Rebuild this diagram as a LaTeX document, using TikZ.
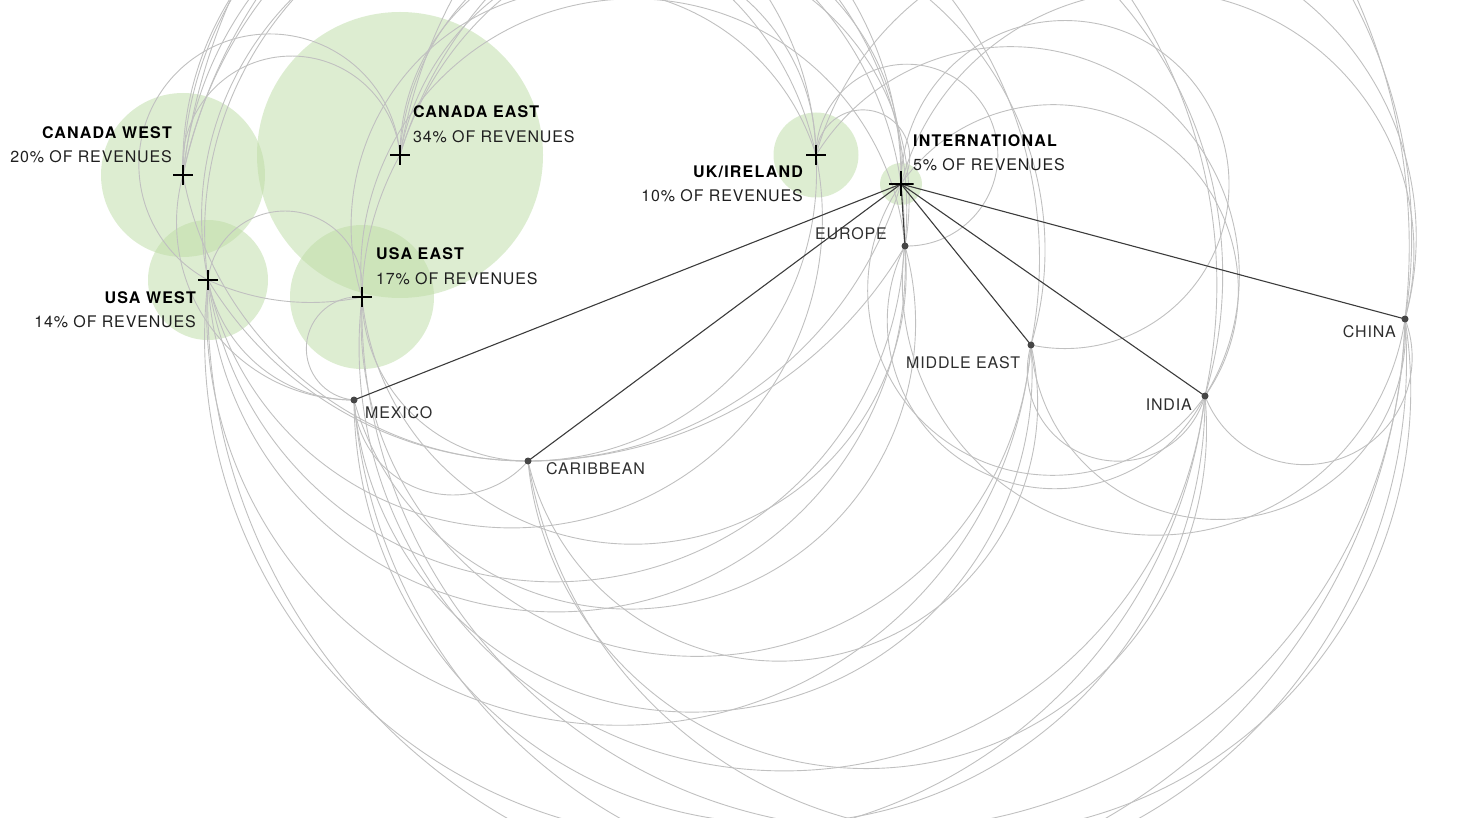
\documentclass[tikz,border=0pt]{standalone}
\usepackage{fontspec}
\setmainfont{TeX Gyre Heros}[LetterSpace=5.3, BoldFeatures={LetterSpace=7.5}]
\usetikzlibrary{calc}

\definecolor{ringgray}{HTML}{C0C0C0}
\definecolor{leafgreen}{HTML}{BCDBA4}
\definecolor{inkgray}{HTML}{3C3C3C}
\definecolor{dotgray}{HTML}{464646}
\definecolor{labelgray}{HTML}{2E2E2E}

\newcommand\labelsize{\fontsize{16}{19}\selectfont}

\tikzset{
  ring/.style={draw=ringgray, line width=0.9pt},
  bubble/.style={fill=leafgreen, fill opacity=0.5},
  hub/.style={minimum size=#1, inner sep=0pt,
    path picture={\draw[line width=1.2pt]
      (path picture bounding box.north) -- (path picture bounding box.south)
      (path picture bounding box.west) -- (path picture bounding box.east);}},
  hub/.default=20pt,
  spot/.style={circle, fill=dotgray, minimum size=7pt, inner sep=0pt},
  spoke/.style={draw=inkgray, line width=1.1pt},
  title/.style={font=\labelsize\bfseries, text=black, inner sep=0pt},
  share/.style={font=\labelsize, text=black!88, inner sep=0pt},
  place/.style={font=\labelsize, text=labelgray, inner sep=0pt},
}

% arc from #1 to #2, clockwise (over the top); #3 moves the centre off the chord
\newcommand\ringover[3]{%
  \draw[ring] let \p1=(#1), \p2=(#2), \p3=($(#1)!.5!(#2)!#3!-90:(#2)$),
    \n1={atan2(\y1-\y3,\x1-\x3)}, \n2={atan2(\y2-\y3,\x2-\x3)},
    \n3={veclen(\x1-\x3,\y1-\y3)}, \n4={\n2-\n1-360*(\n2>\n1)}
  in (\p1) arc[start angle=\n1, delta angle=\n4, radius={\n3*1pt}];}
% arc from #1 to #2, counterclockwise (under the bottom)
\newcommand\ringunder[3]{%
  \draw[ring] let \p1=(#1), \p2=(#2), \p3=($(#1)!.5!(#2)!#3!90:(#2)$),
    \n1={atan2(\y1-\y3,\x1-\x3)}, \n2={atan2(\y2-\y3,\x2-\x3)},
    \n3={veclen(\x1-\x3,\y1-\y3)}, \n4={\n2-\n1+360*(\n2<\n1)}
  in (\p1) arc[start angle=\n1, delta angle=\n4, radius={\n3*1pt}];}

\begin{document}
\begin{tikzpicture}[x=1pt, y=-1pt]
  \useasboundingbox (0,0) rectangle (1461,818);
  % home regions
  \coordinate (cw)  at (183,175);
  \coordinate (ce)  at (400,155);
  \coordinate (usw) at (208,280);
  \coordinate (use) at (362,297);
  \coordinate (uk)  at (816,155);
  \coordinate (int) at (901,184);
  % markets
  \coordinate (eur) at (905,246);
  \coordinate (me)  at (1031,345);
  \coordinate (ind) at (1205,396);
  \coordinate (chn) at (1405,319);
  \coordinate (mex) at (354,400);
  \coordinate (car) at (528,461);

  % revenue bubbles
  \fill[bubble] (cw) circle (82pt);
  \fill[bubble] (ce) circle (143pt);
  \fill[bubble] (usw) circle (60pt);
  \fill[bubble] (use) circle (72pt);
  \fill[bubble] (uk) circle (42.5pt);
  \fill[bubble] (int) circle (21pt);

  \begin{scope}
    \clip (0,0) rectangle (1461,818);
    \foreach \a/\b/\h in {cw/ce/0, usw/ce/-0.55, usw/use/0,
        cw/uk/0, cw/int/0, cw/eur/0, cw/me/0, cw/ind/0, cw/chn/0,
        usw/uk/0, usw/int/0,
        ce/uk/0, ce/int/0, ce/eur/0, ce/me/0, ce/ind/0, ce/chn/0,
        use/uk/0, use/eur/0, use/ce/4,
        uk/eur/-1.02, uk/int/-0.3, int/me/-1.23,
        uk/ind/0, uk/chn/0, int/ind/0, int/chn/0}
      {\ringover{\a}{\b}{\h}}
    \foreach \a/\b/\h in {usw/uk/0, usw/int/0, usw/eur/0, usw/me/0, usw/ind/0, usw/chn/0,
        use/eur/0, use/me/0, use/ind/0, use/chn/0,
        mex/eur/0, mex/me/0, mex/ind/0, mex/chn/0,
        car/me/0, car/ind/0, car/chn/0,
        usw/car/1.77, cw/car/1.2, use/car/1.01, mex/car/0.4,
        usw/mex/1.21, cw/mex/0.76, use/mex/0, usw/use/3,
        car/int/1.34, car/uk/0.94, car/eur/1.75,
        me/ind/0, me/chn/0, ind/chn/0, eur/ind/0, eur/chn/0, int/ind/0}
      {\ringunder{\a}{\b}{\h}}
  \end{scope}

  % international spokes
  \foreach \m in {mex, car, eur, me, ind, chn}
    \draw[spoke] (int) -- (\m);
  \foreach \m in {mex, car, eur, me, ind, chn}
    \node[spot] (\m dot) at (\m) {};
  \foreach \r in {cw, ce, usw, use, uk}
    \node[hub] (\r hub) at (\r) {};
  \node[hub=25pt] (int hub) at (int) {};

  % labels
  \node[title, anchor=base east] (cwtitle) at (172,139) {CANADA WEST};
  \node[share, anchor=base east] (cwshare) at (172,163) {20\% OF REVENUES};
  \node[title, anchor=base west] (cetitle) at (413,118) {CANADA EAST};
  \node[share, anchor=base west] (ceshare) at (413,143) {34\% OF REVENUES};
  \node[title, anchor=base west] (usetitle) at (376,260) {USA EAST};
  \node[share, anchor=base west] (useshare) at (376,284) {17\% OF REVENUES};
  \node[title, anchor=base east] (uswtitle) at (196,303) {USA WEST};
  \node[share, anchor=base east] (uswshare) at (196,327) {14\% OF REVENUES};
  \node[title, anchor=base east] (uktitle) at (803,178) {UK/IRELAND};
  \node[share, anchor=base east] (ukshare) at (803,202) {10\% OF REVENUES};
  \node[title, anchor=base west] (inttitle) at (913,147) {INTERNATIONAL};
  \node[share, anchor=base west] (intshare) at (913,171) {5\% OF REVENUES};
  \node[place, anchor=base east] (eurname) at (887,240) {EUROPE};
  \node[place, anchor=base west] (mename) at (906,368) {MIDDLE EAST};
  \node[place, anchor=base east] (indname) at (1192,410) {INDIA};
  \node[place, anchor=base east] (chnname) at (1396,337) {CHINA};
  \node[place, anchor=base west] (mexname) at (365,418) {MEXICO};
  \node[place, anchor=base west] (carname) at (546,474) {CARIBBEAN};
\end{tikzpicture}
\end{document}
